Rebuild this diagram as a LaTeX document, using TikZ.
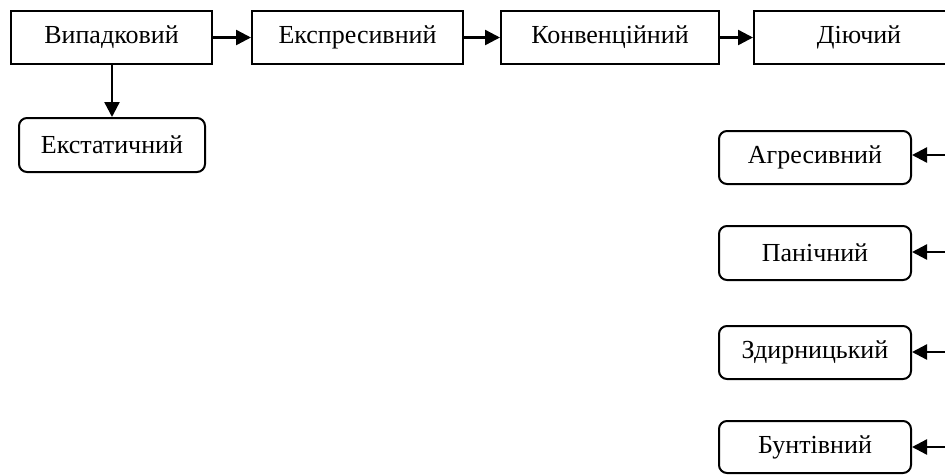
\documentclass[tikz,border=0pt]{standalone}
\usepackage{fontspec}
\setmainfont{Liberation Serif}
\usetikzlibrary{arrows.meta}
\begin{document}
\begin{tikzpicture}[x=1pt,y=-1pt,
  sqbox/.style={draw,line width=2pt,inner sep=0pt,anchor=north west,font=\fontsize{26}{29}\selectfont},
  rbox/.style={draw,line width=2pt,inner sep=0pt,anchor=north west,rounded corners=8pt,font=\fontsize{26}{29}\selectfont},
  conn/.style={line width=2.4pt,-{Triangle[length=15pt,width=15pt]}}]
\useasboundingbox (0,0) rectangle (945,475);
\node[sqbox,minimum width=201pt,minimum height=53pt] (v) at (10,10) {Випадковий};
\node[sqbox,minimum width=211pt,minimum height=53pt] (e) at (251,10) {Експресивний};
\node[sqbox,minimum width=218pt,minimum height=53pt] (k) at (500,10) {Конвенційний};
\node[sqbox,minimum width=210pt,minimum height=53pt] (d) at (753,10) {Діючий};
\node[rbox,minimum width=186pt,minimum height=54pt] (ek) at (18,117) {Екстатичний};
\node[rbox,minimum width=192pt,minimum height=53pt] (a) at (718,130) {Агресивний};
\node[rbox,minimum width=192pt,minimum height=54pt] (p) at (718,225) {Панічний};
\node[rbox,minimum width=192pt,minimum height=53pt] (z) at (718,325) {Здирницький};
\node[rbox,minimum width=192pt,minimum height=52pt] (b) at (718,420) {Бунтівний};
\coordinate (ra) at (946,155);
\coordinate (rp) at (946,252);
\coordinate (rz) at (946,352);
\coordinate (rb) at (946,447);
\draw[conn] (v) -- (e);
\draw[conn] (e) -- (k);
\draw[conn] (k) -- (d);
\draw[conn] (v.south -| ek.north) -- (ek.north);
\draw[conn] (ra) -- (ra -| a.east);
\draw[conn] (rp) -- (rp -| p.east);
\draw[conn] (rz) -- (rz -| z.east);
\draw[conn] (rb) -- (rb -| b.east);
\end{tikzpicture}
\end{document}
